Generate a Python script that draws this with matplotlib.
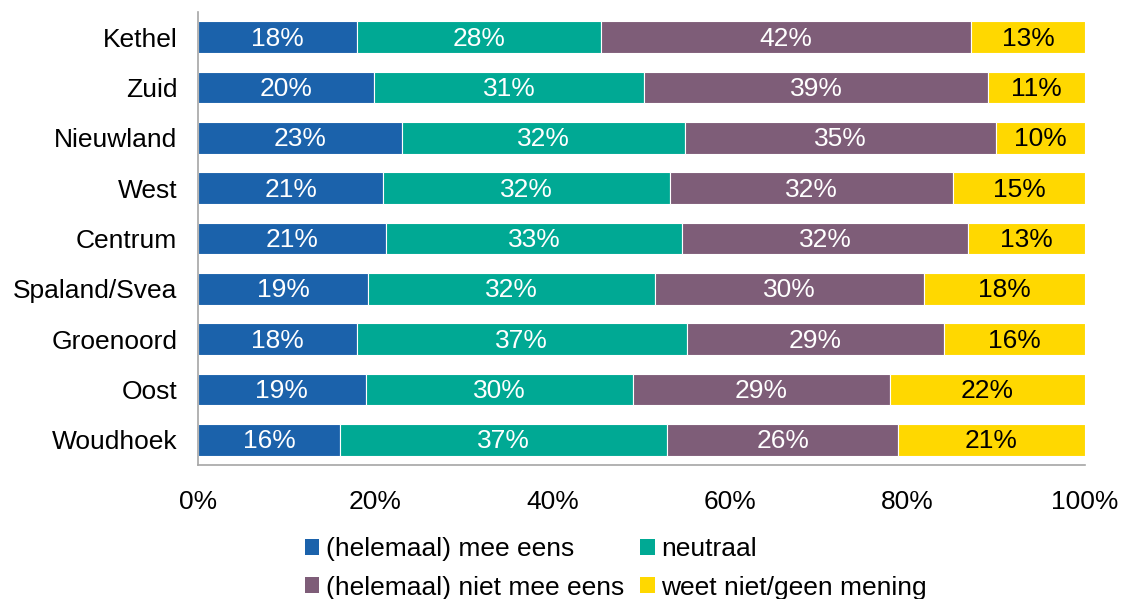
import matplotlib
matplotlib.use("Agg")
import matplotlib.pyplot as plt
from matplotlib.patches import Patch

plt.rcParams['font.family'] = ['Liberation Sans', 'DejaVu Sans']

wijken = ['Kethel', 'Zuid', 'Nieuwland', 'West', 'Centrum',
          'Spaland/Svea', 'Groenoord', 'Oost', 'Woudhoek']
mee_eens = [17.9, 19.8, 23.0, 20.9, 21.2, 19.2, 17.9, 18.9, 16.0]
neutraal = [27.5, 30.5, 31.9, 32.3, 33.4, 32.3, 37.2, 30.1, 36.9]
niet_mee_eens = [41.7, 38.8, 35.1, 31.9, 32.2, 30.3, 29.0, 29.0, 26.0]
weet_niet = [12.9, 10.9, 10.0, 14.9, 13.2, 18.2, 15.9, 22.0, 21.1]

lbl_mee = [18, 20, 23, 21, 21, 19, 18, 19, 16]
lbl_neu = [28, 31, 32, 32, 33, 32, 37, 30, 37]
lbl_niet = [42, 39, 35, 32, 32, 30, 29, 29, 26]
lbl_weet = [13, 11, 10, 15, 13, 18, 16, 22, 21]

reeksen = ['(helemaal) mee eens', 'neutraal',
           '(helemaal) niet mee eens', 'weet niet/geen mening']
kleuren = ['#1b62ab', '#00a994', '#7e5d78', '#ffd800']
tekstkleur = ['white', 'white', 'white', 'black']

fs = 19
fig = plt.figure(figsize=(11.28, 5.99), dpi=100)
ax = fig.add_axes([0.1755, 0.2237, 0.7865, 0.756])

y = list(range(len(wijken)))
links = [0] * len(wijken)
for waarden, labels, kleur, tk in zip(
        [mee_eens, neutraal, niet_mee_eens, weet_niet],
        [lbl_mee, lbl_neu, lbl_niet, lbl_weet], kleuren, tekstkleur):
    ax.barh(y, waarden, left=links, height=0.63, color=kleur,
            edgecolor='white', linewidth=0.8)
    for i in y:
        ax.text(links[i] + waarden[i] / 2, i + 0.03, f'{labels[i]}%',
                ha='center', va='center', color=tk, fontsize=fs)
    links = [a + b for a, b in zip(links, waarden)]

ax.set_ylim(len(wijken) - 0.5, -0.5)
ax.set_xlim(0, 100)
ax.set_yticks(y)
ax.set_yticklabels(wijken, fontsize=fs)
ax.set_xticks(range(0, 101, 20))
ax.set_xticklabels([f'{v}%' for v in range(0, 101, 20)], fontsize=fs)
ax.tick_params(axis='y', length=0, pad=15)
ax.tick_params(axis='x', length=0, pad=18)
for s in ['top', 'right']:
    ax.spines[s].set_visible(False)
for s in ['left', 'bottom']:
    ax.spines[s].set_color('#a6a6a6')
    ax.spines[s].set_linewidth(1.2)

# matplotlib vult kolomsgewijs: volgorde omzetten zodat rijen kloppen
volgorde = [0, 2, 1, 3]
handles = [Patch(facecolor=kleuren[k], edgecolor='none') for k in volgorde]
fig.legend(handles, [reeksen[k] for k in volgorde], loc='center',
           bbox_to_anchor=(0.546, 0.051), ncol=2, frameon=False,
           fontsize=fs, handlelength=0.55, handleheight=0.55,
           handletextpad=0.25, columnspacing=0.6, labelspacing=0.55,
           borderpad=0)

fig.savefig('out.png', dpi=100)
